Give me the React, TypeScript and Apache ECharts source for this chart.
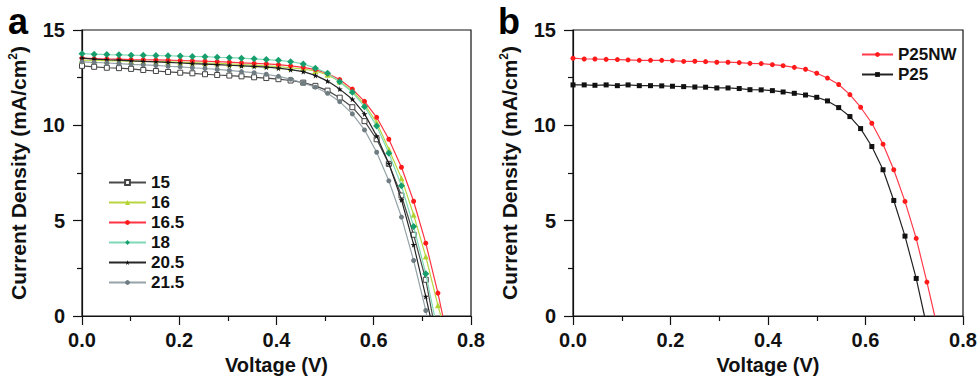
import React, { useEffect, useRef } from "react";
import * as echarts from "echarts";

// Panel a voltages (V)
const xA = [0, 0.025, 0.051, 0.076, 0.101, 0.126, 0.152, 0.177, 0.202, 0.227, 0.253, 0.278, 0.303, 0.328, 0.354, 0.379, 0.404, 0.429, 0.455, 0.48, 0.505, 0.53, 0.556, 0.581, 0.606, 0.631, 0.657, 0.682, 0.707, 0.732];
// Panel a current densities (mA/cm2)
const s15 = [13.12, 13.07, 13.02, 13.0, 12.96, 12.9, 12.85, 12.8, 12.76, 12.73, 12.68, 12.64, 12.61, 12.57, 12.52, 12.48, 12.42, 12.35, 12.24, 12.07, 11.82, 11.45, 10.95, 10.22, 9.27, 7.98, 6.32, 4.26, 1.9];
const s16 = [13.42, 13.4, 13.39, 13.38, 13.37, 13.36, 13.35, 13.33, 13.31, 13.29, 13.27, 13.25, 13.22, 13.19, 13.16, 13.12, 13.08, 13.02, 12.95, 12.85, 12.65, 12.3, 11.8, 11.1, 10.15, 8.75, 7.23, 5.31, 3.12, 0.56];
const s165 = [13.52, 13.5, 13.48, 13.47, 13.45, 13.44, 13.43, 13.42, 13.4, 13.38, 13.36, 13.34, 13.31, 13.28, 13.25, 13.22, 13.18, 13.12, 13.04, 12.92, 12.72, 12.4, 11.9, 11.26, 10.42, 9.27, 7.8, 6.02, 3.82, 1.2];
const s18 = [13.76, 13.73, 13.71, 13.7, 13.68, 13.67, 13.66, 13.65, 13.63, 13.61, 13.6, 13.57, 13.55, 13.52, 13.49, 13.45, 13.41, 13.34, 13.22, 13.0, 12.73, 12.29, 11.73, 10.98, 9.97, 8.54, 6.83, 4.69, 2.22];
const s205 = [13.52, 13.47, 13.44, 13.42, 13.38, 13.35, 13.33, 13.3, 13.27, 13.24, 13.21, 13.18, 13.15, 13.12, 13.09, 13.05, 13.0, 12.92, 12.82, 12.62, 12.32, 11.9, 11.37, 10.6, 9.44, 8.0, 6.09, 3.74, 1.02];
const s215 = [13.33, 13.3, 13.27, 13.24, 13.2, 13.17, 13.14, 13.1, 13.07, 13.02, 12.98, 12.93, 12.88, 12.82, 12.76, 12.68, 12.57, 12.42, 12.22, 12.0, 11.68, 11.24, 10.6, 9.76, 8.59, 7.09, 5.19, 2.91, 0.29];
// open-circuit voltages (J = 0)
const vocA = [0.721, 0.738, 0.742, 0.725, 0.716, 0.709];
const namesA = ["15", "16", "16.5", "18", "20.5", "21.5"];

// Panel b
const xB = [0, 0.023, 0.045, 0.068, 0.091, 0.113, 0.136, 0.159, 0.182, 0.204, 0.227, 0.25, 0.272, 0.295, 0.318, 0.341, 0.363, 0.386, 0.409, 0.431, 0.454, 0.477, 0.5, 0.522, 0.545, 0.568, 0.59, 0.613, 0.636, 0.658, 0.681, 0.704, 0.726];
const p25nw = [13.52, 13.48, 13.48, 13.46, 13.45, 13.43, 13.41, 13.41, 13.41, 13.39, 13.35, 13.36, 13.34, 13.31, 13.31, 13.29, 13.25, 13.24, 13.18, 13.13, 13.04, 12.94, 12.73, 12.48, 12.14, 11.61, 10.95, 10.11, 9.01, 7.67, 6.01, 4.07, 1.78];
const p25 = [12.12, 12.12, 12.1, 12.12, 12.08, 12.12, 12.08, 12.08, 12.07, 12.05, 12.03, 12.01, 12.0, 11.96, 11.96, 11.93, 11.87, 11.86, 11.82, 11.75, 11.68, 11.59, 11.47, 11.28, 10.93, 10.46, 9.83, 8.89, 7.67, 6.06, 4.19, 1.97];
const vocB = [0.742, 0.721];
const namesB = ["P25NW", "P25"];

const xTicks = ["0.0", "0.2", "0.4", "0.6", "0.8"];
const yTicks = ["0", "5", "10", "15"];

const FONT = "'Liberation Sans', Arial, sans-serif";
const STAR = "path://M50,0 L61,35 L98,35 L68,57 L79,91 L50,70 L21,91 L32,57 L2,35 L39,35 Z";

function build(xs: number[], ys: number[], voc: number) {
  const d: any[] = ys.map((y, i) => [xs[i], y]);
  d.push({ value: [voc, 0], symbol: "none" });
  return d;
}

export default function App() {
  const ref = useRef<HTMLDivElement>(null);
  useEffect(() => {
    if (!ref.current) return;
    const chart = echarts.init(ref.current, null, { renderer: "svg" });
    const axisCommon = (isX: boolean) => ({
      type: "value",
      min: 0,
      max: isX ? 0.8 : 15,
      interval: isX ? 0.2 : 5,
      axisLine: { show: true, lineStyle: { color: "#111", width: 1.2 } },
      axisTick: { show: true, inside: false, length: 9, lineStyle: { color: "#111", width: 1.2 } },
      minorTick: { show: true, splitNumber: 2, length: 5, lineStyle: { color: "#111", width: 1.2 } },
      splitLine: { show: false },
      axisLabel: {
        color: "#111",
        fontFamily: FONT,
        fontWeight: "bold",
        fontSize: 20,
        margin: isX ? 14 : 17,
        formatter: (v: number) => {
          const s = isX ? v.toFixed(1) : String(Math.round(v));
          return isX ? (xTicks.includes(s) ? s : "") : (yTicks.includes(s) ? s : "");
        },
      },
      name: isX ? "Voltage (V)" : "Current Density (mA/cm{sup|2})",
      nameLocation: "middle",
      nameGap: isX ? 37 : 53,
      nameTextStyle: {
        color: "#111",
        fontFamily: FONT,
        fontWeight: "bold",
        fontSize: isX ? 20 : 21,
        rich: { sup: { fontSize: 12, fontWeight: "bold", fontFamily: FONT, color: "#111", verticalAlign: "top", padding: [0, 0, 10, 0] } },
      },
    });

    const styleA = [
      { sym: "rect", size: 5, color: "#ffffff", border: "#444", line: "#4a4a4a" },
      { sym: "triangle", size: 6, color: "#b3d332", border: "#b3d332", line: "#b8d640" },
      { sym: "circle", size: 5, color: "#ff1a1a", border: "#ff1a1a", line: "#ff3344" },
      { sym: "diamond", size: 7, color: "#169f6c", border: "#169f6c", line: "#7fd9b6" },
      { sym: STAR, size: 6, color: "#111", border: "#111", line: "#262626" },
      { sym: "circle", size: 5, color: "#6f7d83", border: "#6f7d83", line: "#94a3a8" },
    ];
    const dataA = [s15, s16, s165, s18, s205, s215];
    const seriesA = dataA.map((ys, i) => ({
      name: namesA[i],
      type: "line",
      xAxisIndex: 0,
      yAxisIndex: 0,
      data: build(xA, ys, vocA[i]),
      symbol: styleA[i].sym,
      symbolSize: styleA[i].size,
      showAllSymbol: true,
      itemStyle: { color: styleA[i].color, borderColor: styleA[i].border, borderWidth: i === 0 ? 1 : 0 },
      lineStyle: { color: styleA[i].line, width: 1.2 },
      z: 2 + i,
    }));
    const styleB = [
      { sym: "circle", size: 5, color: "#ff1a1a", line: "#ff3a4a" },
      { sym: "rect", size: 5, color: "#111", line: "#222" },
    ];
    const seriesB = [p25nw, p25].map((ys, i) => ({
      name: namesB[i],
      type: "line",
      xAxisIndex: 1,
      yAxisIndex: 1,
      data: build(xB, ys, vocB[i]),
      symbol: styleB[i].sym,
      symbolSize: styleB[i].size,
      showAllSymbol: true,
      itemStyle: { color: styleB[i].color },
      lineStyle: { color: styleB[i].line, width: 1.2 },
    }));

    const legendText = { color: "#111", fontFamily: FONT, fontWeight: "bold", fontSize: 17 };

    chart.setOption({
      animation: false,
      backgroundColor: "#ffffff",
      grid: [
        { left: 82, top: 30, width: 389, height: 286, show: true, borderColor: "#111", borderWidth: 1.2, backgroundColor: "transparent" },
        { left: 573, top: 30, width: 390, height: 286, show: true, borderColor: "#111", borderWidth: 1.2, backgroundColor: "transparent" },
      ],
      xAxis: [{ ...axisCommon(true), gridIndex: 0 }, { ...axisCommon(true), gridIndex: 1 }],
      yAxis: [{ ...axisCommon(false), gridIndex: 0 }, { ...axisCommon(false), gridIndex: 1 }],
      legend: [
        {
          data: namesA,
          orient: "vertical",
          left: 108,
          top: 174,
          padding: 0,
          itemWidth: 37,
          itemHeight: 6,
          itemGap: 3,
          textStyle: legendText,
          selectedMode: false,
        },
        {
          data: namesB,
          orient: "vertical",
          left: 861,
          top: 46,
          padding: 0,
          itemWidth: 31,
          itemHeight: 6,
          itemGap: 3,
          textStyle: legendText,
          selectedMode: false,
        },
      ],
      graphic: [
        { type: "text", left: 8, top: 3, style: { text: "a", fontSize: 36, fontWeight: "bold", fontFamily: FONT, fill: "#000" } },
        { type: "text", left: 498, top: 3, style: { text: "b", fontSize: 36, fontWeight: "bold", fontFamily: FONT, fill: "#000" } },
      ],
      series: [...seriesA, ...seriesB],
    });
    return () => chart.dispose();
  }, []);
  return <div ref={ref} style={{ position: "fixed", left: 0, top: 0, width: 980, height: 381 }} />;
}
